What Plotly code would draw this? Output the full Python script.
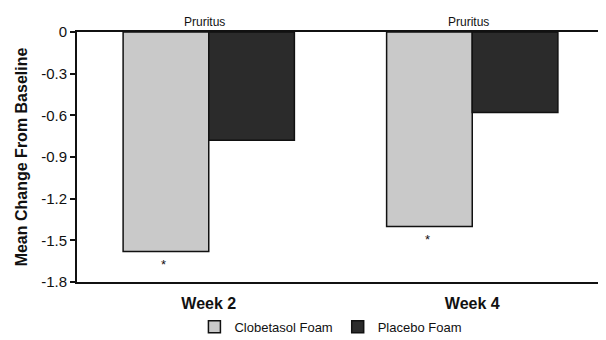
import plotly.graph_objects as go

categories = ["Week 2", "Week 4"]
clobetasol = [-1.58, -1.40]
placebo = [-0.78, -0.58]
y_ticks = [0, -0.3, -0.6, -0.9, -1.2, -1.5, -1.8]
y_tick_labels = ["0", "-0.3", "-0.6", "-0.9", "-1.2", "-1.5", "-1.8"]
panel_labels = ["Pruritus", "Pruritus"]
significance = ["*", "*"]

FONT = "Liberation Sans, Arial, sans-serif"

fig = go.Figure()
fig.add_trace(go.Bar(
    name="Clobetasol Foam", x=categories, y=clobetasol,
    marker=dict(color="#c9c9c9", line=dict(color="#111111", width=1.5)),
))
fig.add_trace(go.Bar(
    name="Placebo Foam", x=categories, y=placebo,
    marker=dict(color="#2b2b2b", line=dict(color="#111111", width=1.5)),
))

annotations = []
for i, cat in enumerate(categories):
    annotations.append(dict(
        x=cat, y=1, xref="x", yref="paper", text=panel_labels[i],
        showarrow=False, yanchor="bottom", yshift=1, xshift=-4,
        font=dict(family=FONT, size=12, color="#111111"),
    ))
    annotations.append(dict(
        x=cat, y=clobetasol[i], xref="x", yref="y", text=significance[i],
        showarrow=False, yanchor="top", yshift=-4, xshift=-45,
        font=dict(family=FONT, size=13, color="#111111"),
    ))

fig.update_layout(
    width=598, height=332,
    margin=dict(l=69, r=2, t=24, b=58, autoexpand=False),
    paper_bgcolor="white", plot_bgcolor="white",
    barmode="group", bargap=0.35, bargroupgap=0,
    font=dict(family=FONT, color="#111111"),
    showlegend=True,
    legend=dict(orientation="h", x=0.54, xanchor="center", xref="container",
                y=0.04, yanchor="middle", yref="container",
                font=dict(family=FONT, size=13),
                traceorder="normal"),
    annotations=annotations,
    shapes=[dict(type="line", xref="paper", yref="paper", x0=1, x1=1, y0=0, y1=1,
                 line=dict(color="#111111", width=1))],
)
fig.update_xaxes(
    automargin=False,
    showline=True, linecolor="#111111", linewidth=2, mirror=True,
    ticks="", tickmode="array", tickvals=categories,
    ticktext=["<b>" + c + "</b>" for c in categories],
    tickfont=dict(family=FONT, size=16, color="#111111"),
    ticklabelstandoff=6, showgrid=False, range=[-0.5, 1.5],
)
fig.update_yaxes(
    automargin=False,
    range=[-1.8, 0], showline=True, linecolor="#111111", linewidth=2,
    ticks="outside", ticklen=5, tickwidth=1.5, tickcolor="#111111",
    tickvals=y_ticks, ticktext=y_tick_labels,
    tickfont=dict(family=FONT, size=15, color="#111111"),
    showgrid=False, zeroline=False,
    title=dict(text="<b>Mean Change From Baseline</b>", standoff=10,
               font=dict(family=FONT, size=16, color="#111111")),
)

fig.write_html("out.html")
